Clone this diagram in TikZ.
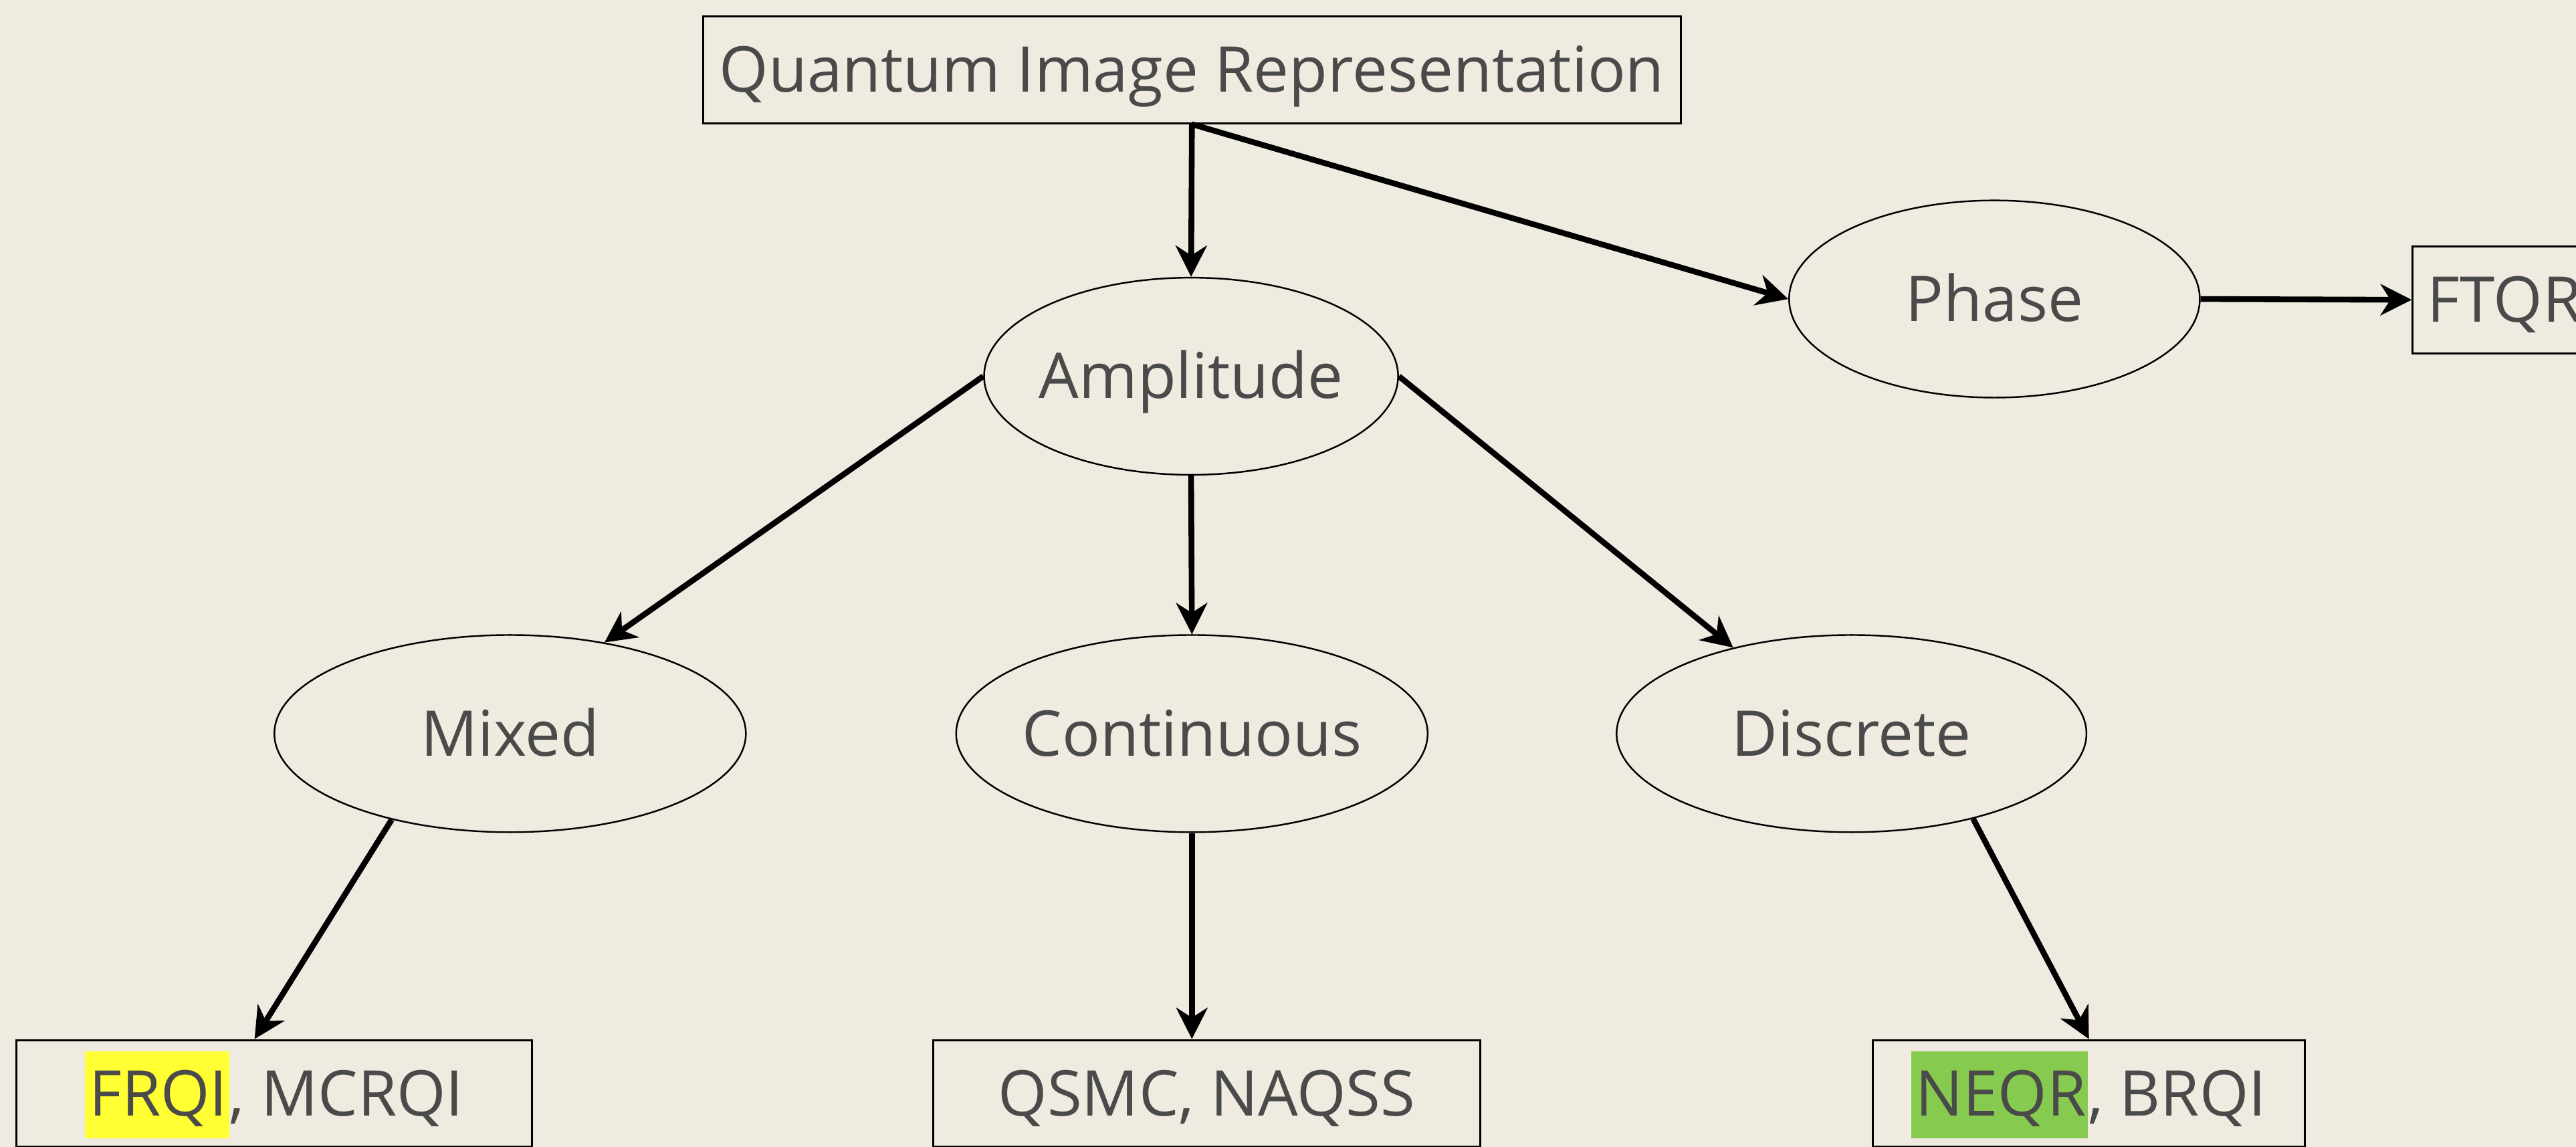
\documentclass[tikz,border=0pt]{standalone}
\usepackage{fontspec}
\setmainfont{Open Sans}[Ligatures=NoCommon]
\usetikzlibrary{arrows.meta, shapes.geometric}
\definecolor{paper}{RGB}{239,235,225}
\definecolor{ink}{RGB}{74,74,74}
\definecolor{hlyellow}{RGB}{255,255,51}
\definecolor{hlgreen}{RGB}{134,203,79}
\newcommand{\hlmark}[2]{{\setlength{\fboxsep}{0pt}\colorbox{#1}{\rule[-14pt]{0pt}{53pt}\hspace{2.5pt}#2\hspace{1pt}}}}

\begin{document}
\begin{tikzpicture}[x=1pt, y=1pt,
	every node/.style={text=ink, font=\fontsize{38.4}{44}\selectfont, text height=40pt, text depth=13pt},
	box/.style={rectangle, draw=black, line width=1.2pt, minimum height=65pt, inner sep=0pt},
	oval/.style={ellipse, draw=black, line width=1pt, minimum height=120pt, inner ysep=0pt, inner xsep=-30pt},
	link/.style={line width=3.5pt, -{Stealth[length=19pt, width=19pt, inset=6pt]}}]
	\clip (0,0) rectangle (1568,698);
	\fill[paper] (0,0) rectangle (1568,698);

	\node[box, minimum width=595pt] (qir) at (725.5,655.5) {Quantum Image Representation};

	\node[oval, minimum width=252pt] (amp) at (725,469) {Amplitude};
	\node[oval, minimum width=250pt] (phase) at (1214,516) {Phase};
	\node[box, anchor=west, inner xsep=9pt] (ftqr) at (1468,515.5) {FTQR};

	\node[oval, minimum width=287pt] (mixed) at (310.5,251.5) {Mixed};
	\node[oval, minimum width=287pt] (cont) at (725.5,251.5) {Continuous};
	\node[oval, minimum width=286pt] (disc) at (1127,251.5) {Discrete};

	\node[box, minimum width=314pt] (frqi) at (167,32.5) {\hlmark{hlyellow}{FRQI}, MCRQI};
	\node[box, minimum width=333pt] (qsmc) at (734.5,32.5) {QSMC, NAQSS};
	\node[box, minimum width=263pt] (neqr) at (1271.5,32.5) {\hlmark{hlgreen}{NEQR}, BRQI};

	\draw[link] (qir.south) -- (amp.north);
	\draw[link] (qir.south) -- (phase.west);
	\draw[link] (phase.east) -- (ftqr.west);

	\draw[link] (amp.west) -- (mixed.44);
	\draw[link] (amp.south) -- (cont.north);
	\draw[link] (amp.east) -- (disc.144);

	\draw[link] (mixed.216) -- (frqi.110);
	\draw[link] (cont.south) -- (cont.south |- qsmc.north);
	\draw[link] (disc.-35) -- (neqr.north);
\end{tikzpicture}
\end{document}
